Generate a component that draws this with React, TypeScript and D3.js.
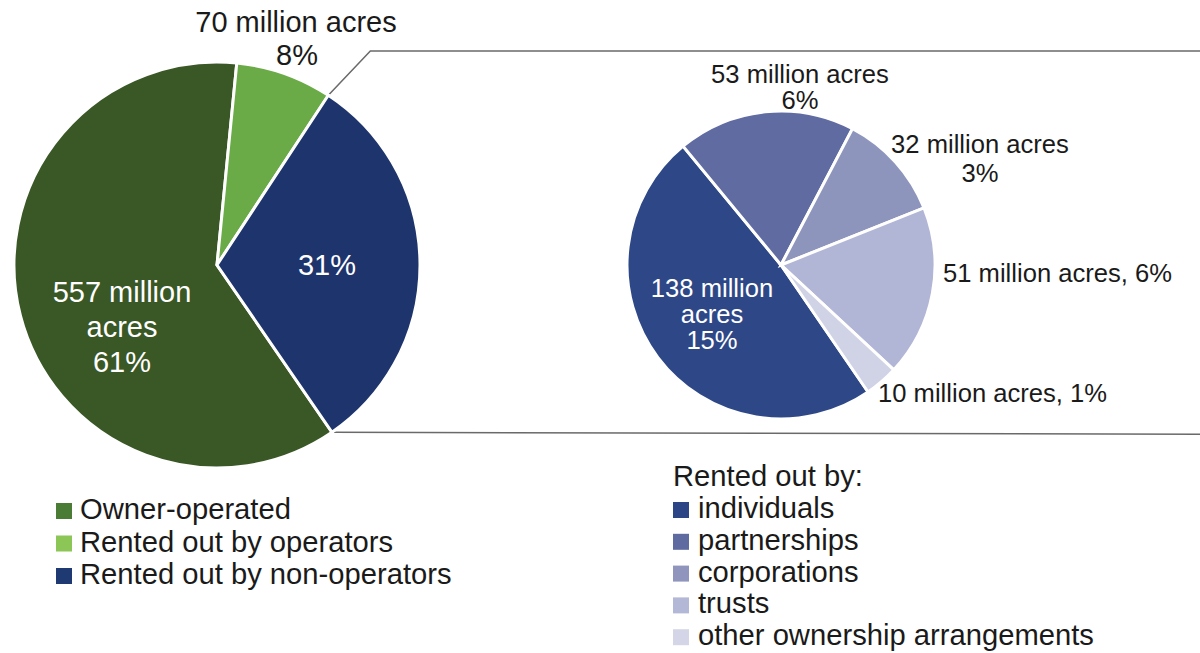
import React from "react";
import * as d3 from "d3";

// ---- data ----
const mainCategories = ["Owner-operated", "Rented out by operators", "Rented out by non-operators"];
const mainAcres = [557, 70, 284];
const mainPercents = ["61%", "8%", "31%"];

const subCategories = ["individuals", "partnerships", "corporations", "trusts", "other ownership arrangements"];
const subAcres = [138, 53, 32, 51, 10];
const subPercents = ["15%", "6%", "3%", "6%", "1%"];

const legendTitle = "Rented out by:";

// ---- styles ----
const mainPieColors = ["#3a5726", "#6aab47", "#1e346c"];
const mainLegendColors = ["#4a7c35", "#8cc657", "#1f3a73"];
const subPieColors = ["#2e4787", "#5f6ba1", "#8e95bd", "#b1b6d6", "#d0d2e6"];
const subLegendColors = ["#2c4585", "#5e6aa0", "#8f95bd", "#b3b8d7", "#d4d6e8"];

const W = 1200;
const H = 653;
const FONT = "'Liberation Sans', Arial, Helvetica, sans-serif";
const deg = Math.PI / 180;

export default function App() {
  // left pie
  const L = { cx: 217, cy: 265, r: 203 };
  const mainTotal = d3.sum(mainAcres);
  const mainStart = 5.6 * deg - (mainAcres[0] / mainTotal) * 2 * Math.PI;
  const mainPie = d3
    .pie<number>()
    .sort(null)
    .startAngle(mainStart)
    .endAngle(mainStart + 2 * Math.PI)(mainAcres);
  const mainArc = d3.arc<d3.PieArcDatum<number>>().innerRadius(0).outerRadius(L.r);

  // right pie
  const R = { cx: 781, cy: 265, r: 154 };
  const subTotal = d3.sum(subAcres);
  const subStart = -39.5 * deg - (subAcres[0] / subTotal) * 2 * Math.PI;
  const subPie = d3
    .pie<number>()
    .sort(null)
    .startAngle(subStart)
    .endAngle(subStart + 2 * Math.PI)(subAcres);
  const subArc = d3.arc<d3.PieArcDatum<number>>().innerRadius(0).outerRadius(R.r);

  // connector from the split points of the non-operators slice
  const nonOp = mainPie[2];
  const pt = (a: number) => [L.cx + L.r * Math.sin(a), L.cy - L.r * Math.cos(a)];
  const [tx, ty] = pt(nonOp.startAngle);
  const [bx, by] = pt(nonOp.endAngle);
  const topLineY = 51;

  const fmt = (v: number) => `${v} million acres`;

  return (
    <svg
      width={W}
      height={H}
      style={{ position: "absolute", left: 0, top: 0, background: "#fff" }}
      fontFamily={FONT}
    >
      {/* connector lines */}
      <path
        d={`M${tx},${ty} L${tx + 42},${topLineY} L${W},${topLineY}`}
        fill="none"
        stroke="#6a6a6a"
        strokeWidth={1.5}
      />
      <path d={`M${bx},${by} L${W},${by + 2}`} fill="none" stroke="#6a6a6a" strokeWidth={1.5} />

      {/* left pie */}
      <g transform={`translate(${L.cx},${L.cy})`}>
        {mainPie.map((d, i) => (
          <path key={i} d={mainArc(d) || ""} fill={mainPieColors[i]} stroke="#fff" strokeWidth={3} />
        ))}
      </g>

      {/* right pie */}
      <g transform={`translate(${R.cx},${R.cy})`}>
        {subPie.map((d, i) => (
          <path key={i} d={subArc(d) || ""} fill={subPieColors[i]} stroke="#fff" strokeWidth={3} />
        ))}
      </g>

      {/* left pie labels */}
      <g fontSize={29} textAnchor="middle">
        <text x={296} y={32} fill="#1a1a1a">{fmt(mainAcres[1])}</text>
        <text x={297} y={65} fill="#1a1a1a">{mainPercents[1]}</text>
        <text x={327} y={275} fill="#fff">{mainPercents[2]}</text>
        <text x={122} y={302} fill="#fff">{`${mainAcres[0]} million`}</text>
        <text x={122} y={337} fill="#fff">acres</text>
        <text x={122} y={372} fill="#fff">{mainPercents[0]}</text>
      </g>

      {/* right pie labels */}
      <g fontSize={25.6} fill="#1a1a1a">
        <text x={800} y={83} textAnchor="middle">{fmt(subAcres[1])}</text>
        <text x={800} y={109} textAnchor="middle">{subPercents[1]}</text>
        <text x={980} y={153} textAnchor="middle">{fmt(subAcres[2])}</text>
        <text x={980} y={182} textAnchor="middle">{subPercents[2]}</text>
        <text x={943} y={282}>{`${fmt(subAcres[3])}, ${subPercents[3]}`}</text>
        <text x={878} y={402}>{`${fmt(subAcres[4])}, ${subPercents[4]}`}</text>
        <g fill="#fff" textAnchor="middle">
          <text x={712} y={297}>{`${subAcres[0]} million`}</text>
          <text x={712} y={323}>acres</text>
          <text x={712} y={349}>{subPercents[0]}</text>
        </g>
      </g>

      {/* left legend */}
      <g fontSize={29.2} fill="#1a1a1a">
        {mainCategories.map((c, i) => {
          const y = 519 + i * 32.5;
          return (
            <g key={c}>
              <rect x={56} y={y - 16} width={16} height={16} fill={mainLegendColors[i]} />
              <text x={80} y={y}>{c}</text>
            </g>
          );
        })}
      </g>

      {/* right legend */}
      <g fontSize={29.2} fill="#1a1a1a">
        <text x={673} y={486}>{legendTitle}</text>
        {subCategories.map((c, i) => {
          const y = 518 + i * 31.8;
          return (
            <g key={c}>
              <rect x={673} y={y - 16} width={16} height={16} fill={subLegendColors[i]} />
              <text x={698} y={y}>{c}</text>
            </g>
          );
        })}
      </g>
    </svg>
  );
}
